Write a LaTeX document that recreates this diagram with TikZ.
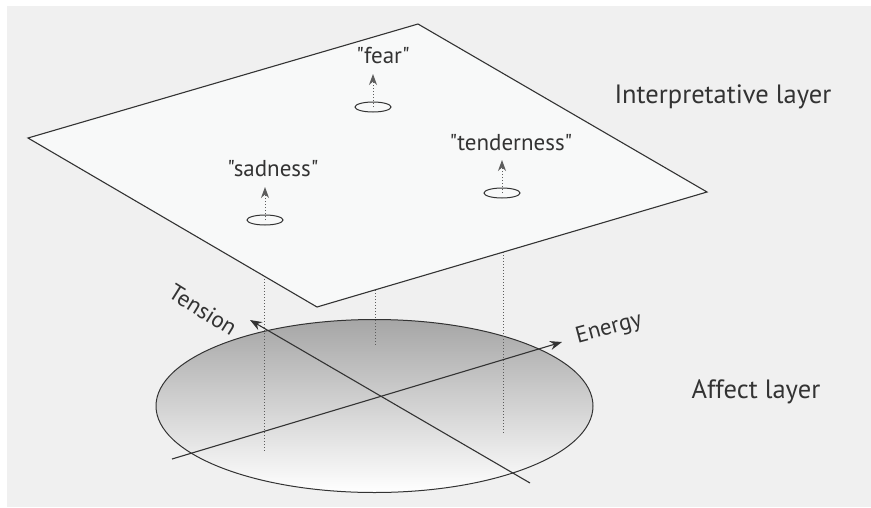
\documentclass[tikz,border=0pt]{standalone}
\usepackage{fontspec}
\setmainfont{PT Sans}[Ligatures=TeXOff]
\usetikzlibrary{arrows.meta,shapes.geometric}
\definecolor{bg}{HTML}{F0F0F0}
\definecolor{ink}{HTML}{333333}
\definecolor{sheet}{HTML}{F8F9F9}

\begin{document}
\begin{tikzpicture}[x=1pt,y=-1pt,
  line/.style={draw=ink, line width=1.1pt},
  axis/.style={line, -{Stealth[length=12pt,width=9pt]}},
  drop/.style={draw=ink!80, dotted, line width=1pt},
  spot/.style={ellipse, draw=ink, line width=1pt, minimum width=36pt, minimum height=10pt, inner sep=0pt},
  word/.style={text=ink, font=\fontsize{23}{25}\selectfont},
  title/.style={text=ink, font=\fontsize{26.5}{28}\selectfont}]
\useasboundingbox (0,0) rectangle (871,507);
\fill[bg] (7,6) rectangle (871,507);

% affect layer
\shade[top color=black!35, bottom color=white, draw=ink, line width=1pt] (374.5,406) ellipse [x radius=218.5, y radius=86.5];
\coordinate (tens0) at (530,483);
\coordinate (tens1) at (250,320);
\coordinate (ener0) at (172,459);
\coordinate (ener1) at (562,342);
\draw[axis] (tens0) -- (tens1);
\draw[axis] (ener0) -- (ener1);
\node[word, rotate=-32] (tension) at (203,310) {Tension};
\node[word, rotate=15] (energy) at (609,329) {Energy};

% projections
\foreach \x/\a/\b in {264/270/452, 375/284/346, 503/246/433}{
  \draw[drop] (\x,\a) -- (\x,\b);
}

% interpretative layer
\coordinate (pt) at (418,24);
\coordinate (pr) at (707,192);
\coordinate (pb) at (317,307);
\coordinate (pl) at (28,138);
\filldraw[fill=sheet, line] (pt) -- (pr) -- (pb) -- (pl) -- cycle;

\foreach \n/\x/\y/\tx/\ty/\t in {sad/265/220/273/169/sadness, fear/373/107/383/56/fear, tender/502/193/511/143/tenderness}{
  \node[spot] (\n) at (\x,\y) {};
  \node[word] (\n-lbl) at (\tx,\ty) {"\t"};
  \coordinate (\n-tip) at (\x,\y-33);
  \draw[drop, -{Stealth[length=11pt,width=8pt]}] (\n.center) -- (\n-tip);
}

\node[title, anchor=west] (interp) at (611,97) {Interpretative layer};
\node[title, anchor=west] (affect) at (688,392) {Affect layer};
\end{tikzpicture}
\end{document}
